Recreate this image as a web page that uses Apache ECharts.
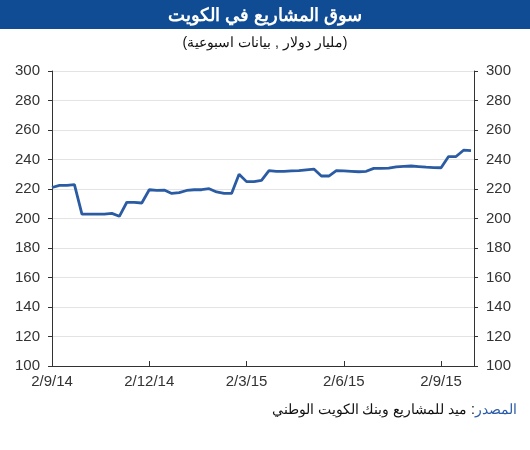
<!DOCTYPE html>
<html>
<head>
<meta charset="utf-8">
<script src="https://cdn.jsdelivr.net/npm/echarts@6/dist/echarts.min.js"></script>
<style>
  html, body { margin: 0; padding: 0; background: #fff; }
  #chart { width: 530px; height: 450px; }
</style>
</head>
<body>
<div id="chart"></div>
<script>
// weekly data, week 0 = 2/9/14
var titleText = 'سوق المشاريع في الكويت';
var subText = '(مليار دولار , بيانات اسبوعية)';
var sourceLabel = 'المصدر';
var sourceText = 'ميد للمشاريع وبنك الكويت الوطني :';

var tickWeeks = [0, 13, 26, 39, 52];
var tickLabels = ['2/9/14', '2/12/14', '2/3/15', '2/6/15', '2/9/15'];

var values = [
    221, 222.5, 222.5, 223, 203, 203, 203, 203, 203.5, 201.5,
    211, 211, 210.5, 219.5, 219, 219.3, 217, 217.5, 219, 219.5,
    219.5, 220.2, 218, 217, 217, 230, 225, 225, 225.8, 232.4,
    232, 232, 232.3, 232.4, 233, 233.5, 228.8, 228.8, 232.4, 232.3,
    232, 231.7, 232, 234, 234, 234.2, 235, 235.3, 235.6, 235.2,
    234.8, 234.5, 234.4, 242, 242, 246.3, 246
];

var dom = document.getElementById('chart');
var myChart = echarts.init(dom);

var lineData = values.map(function (v, i) { return [i, v]; });
var font = 'Liberation Sans, Arial, sans-serif';

var yAxisBase = {
    type: 'value',
    min: 100,
    max: 300,
    interval: 20,
    axisLine: { show: true, lineStyle: { color: '#333', width: 1 } },
    axisTick: { show: true, length: 4, lineStyle: { color: '#333' } },
    axisLabel: { color: '#333', fontSize: 15, fontFamily: font, margin: 12 }
};

var option = {
    animation: false,
    graphic: [
        {
            type: 'rect',
            left: 0, top: 0,
            shape: { width: 530, height: 29 },
            style: { fill: '#0f4c93' }
        }
    ],
    title: [
        {
            text: titleText,
            left: 'center',
            top: 2,
            textStyle: { color: '#fff', fontSize: 18, fontWeight: 'bold', fontFamily: font }
        },
        {
            text: subText,
            left: 'center',
            top: 31,
            textStyle: { color: '#111', fontSize: 14, fontWeight: 'normal', fontFamily: font }
        },
        {
            text: '{b|' + sourceText + '}{a|' + sourceLabel + '}',
            right: 8,
            top: 398,
            textStyle: {
                fontWeight: 'normal',
                rich: {
                    a: { color: '#2a5ca8', fontSize: 14, fontWeight: 'normal', fontFamily: font },
                    b: { color: '#111', fontSize: 14, fontWeight: 'normal', fontFamily: font }
                }
            }
        }
    ],
    grid: { left: 52, right: 56, top: 71, bottom: 84 },
    xAxis: {
        type: 'value',
        min: 0,
        max: 56.4,
        interval: 13,
        axisLine: { show: true, lineStyle: { color: '#333', width: 1 } },
        axisTick: { show: true, inside: true, length: 5, lineStyle: { color: '#333' } },
        splitLine: { show: false },
        axisLabel: {
            color: '#333', fontSize: 15, fontFamily: font, margin: 8,
            formatter: function (v) {
                var k = tickWeeks.indexOf(Math.round(v * 10) / 10);
                return k >= 0 ? tickLabels[k] : '';
            }
        }
    },
    yAxis: [
        Object.assign({}, yAxisBase, {
            position: 'left',
            splitLine: { show: true, lineStyle: { color: '#e3e3e3', width: 1 } }
        }),
        Object.assign({}, yAxisBase, {
            position: 'right',
            splitLine: { show: false }
        })
    ],
    series: [
        {
            type: 'line',
            data: lineData,
            showSymbol: false,
            lineStyle: { color: '#2b5ca3', width: 2.8 },
            itemStyle: { color: '#2b5ca3' }
        }
    ]
};

myChart.setOption(option);
</script>
</body>
</html>
